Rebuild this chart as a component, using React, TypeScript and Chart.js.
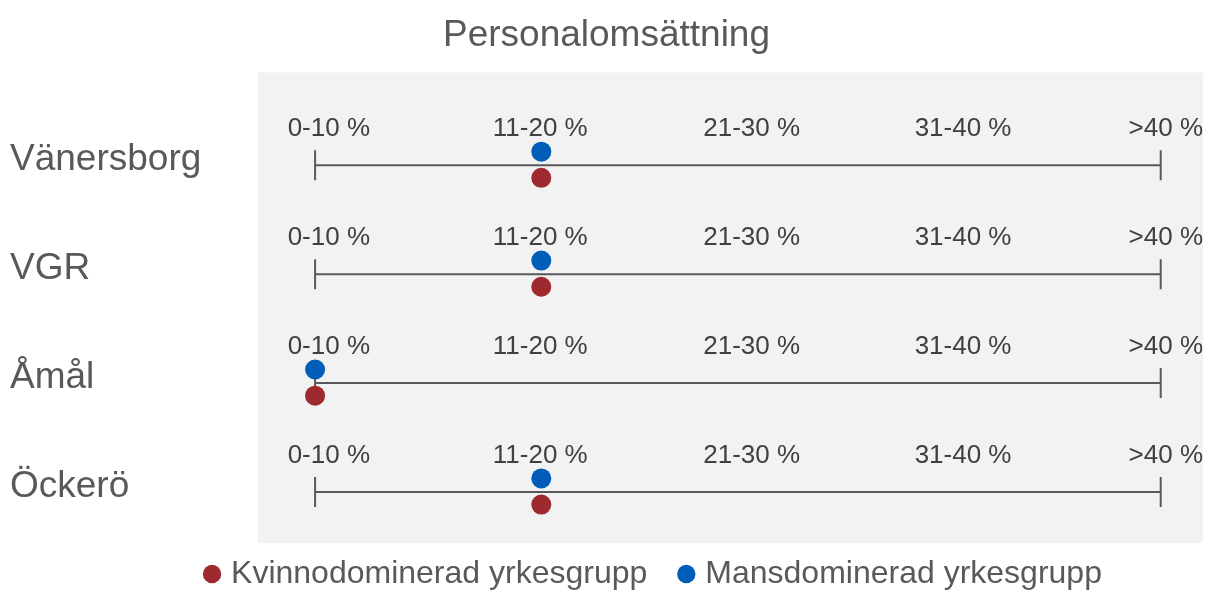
import React, { useEffect, useRef } from "react";
import { Chart, registerables } from "chart.js";

Chart.register(...registerables);

const chartTitle = "Personalomsättning";
const rowLabels = ["Vänersborg", "VGR", "Åmål", "Öckerö"];
const categoryLabels = ["0-10 %", "11-20 %", "21-30 %", "31-40 %", ">40 %"];
const categoryLabelValues = [0.65, 10.65, 20.65, 30.65, 40.65];
const axisStart = 0;
const axisEnd = 40;
const seriesNames = ["Kvinnodominerad yrkesgrupp", "Mansdominerad yrkesgrupp"];
const kvinnoValues = [10.7, 10.7, 0, 10.7];
const mansValues = [10.7, 10.7, 0, 10.7];

const FONT = "Arial, 'Liberation Sans', sans-serif";
const RED = "#9E2A2F";
const BLUE = "#005EB8";
const LINE = "#595959";
const TEXT = "#595959";
const CAT_TEXT = "#404040";
const MANS_OFFSET = -0.125;
const KVINNO_OFFSET = 0.115;
const ROW_LABEL_SHIFT = 0.046;
const LEGEND_DX = 49;
const LEGEND_DY = -21;

const decorPlugin = {
  id: "rowDecor",
  afterLayout(chart: any) {
    const lg = chart.legend;
    if (!lg) return;
    lg.left += LEGEND_DX;
    lg.right += LEGEND_DX;
    lg.top += LEGEND_DY;
    lg.bottom += LEGEND_DY;
  },
  beforeDraw(chart: any) {
    const { ctx, chartArea } = chart;
    ctx.save();
    ctx.fillStyle = "#F2F2F2";
    ctx.fillRect(chartArea.left, chartArea.top, chartArea.right - chartArea.left, chartArea.bottom - chartArea.top);
    ctx.restore();
  },
  beforeDatasetsDraw(chart: any) {
    const { ctx, chartArea, scales } = chart;
    ctx.save();
    ctx.font = `26px ${FONT}`;
    ctx.fillStyle = CAT_TEXT;
    ctx.textBaseline = "middle";
    ctx.textAlign = "center";
    rowLabels.forEach((_, r) => {
      const y = scales.y.getPixelForValue(r) - 36.5;
      categoryLabels.forEach((lab, k) => {
        const w = ctx.measureText(lab).width;
        let x = scales.x.getPixelForValue(categoryLabelValues[k]);
        if (x + w / 2 > chartArea.right) x = chartArea.right - w / 2;
        ctx.fillText(lab, x, y);
      });
    });
    ctx.restore();
  },
};

export default function App() {
  const ref = useRef<HTMLCanvasElement | null>(null);
  useEffect(() => {
    if (!ref.current) return;
    const lineSets = rowLabels.map((name, r) => ({
      type: "line" as const,
      label: "axis-" + name,
      data: [
        { x: axisStart, y: r },
        { x: axisEnd, y: r },
      ],
      borderColor: LINE,
      borderWidth: 2,
      pointStyle: "line",
      rotation: 90,
      pointRadius: 15,
      pointBorderColor: LINE,
      pointBorderWidth: 2,
      order: 2,
    }));
    const chart = new Chart(ref.current, {
      type: "scatter",
      data: {
        datasets: [
          ...lineSets,
          {
            label: seriesNames[0],
            data: kvinnoValues.map((v, r) => ({ x: v, y: r + KVINNO_OFFSET })),
            backgroundColor: RED,
            borderColor: RED,
            pointRadius: 10,
            pointBorderWidth: 0,
            pointStyle: "circle",
            order: 1,
          },
          {
            label: seriesNames[1],
            data: mansValues.map((v, r) => ({ x: v, y: r + MANS_OFFSET })),
            backgroundColor: BLUE,
            borderColor: BLUE,
            pointRadius: 10,
            pointBorderWidth: 0,
            pointStyle: "circle",
            order: 1,
          },
        ] as any,
      },
      options: {
        animation: false,
        responsive: false,
        events: [],
        layout: { autoPadding: false, padding: { left: 10, right: 14, top: 0, bottom: -28 } },
        plugins: {
          title: {
            display: true,
            text: chartTitle,
            color: TEXT,
            font: { family: FONT, size: 37, weight: "normal" },
            padding: { top: 14, bottom: 14 },
          },
          legend: {
            position: "bottom",
            labels: {
              color: TEXT,
              font: { family: FONT, size: 32 },
              usePointStyle: true,
              pointStyle: "circle",
              boxWidth: 6,
              boxHeight: 13,
              padding: 36,
              filter: (item: any) => !String(item.text).startsWith("axis-"),
            },
          },
          tooltip: { enabled: false },
        },
        scales: {
          x: {
            type: "linear",
            min: -2.7,
            max: 42,
            display: false,
          },
          y: {
            type: "linear",
            reverse: true,
            min: -0.853,
            max: 3.468,
            grid: { display: false },
            border: { display: false },
            afterBuildTicks: (scale: any) => {
              scale.ticks = rowLabels.map((_, i) => ({ value: i - ROW_LABEL_SHIFT }));
            },
            afterFit: (scale: any) => {
              scale.width = 248;
            },
            ticks: {
              crossAlign: "far",
              color: TEXT,
              font: { family: FONT, size: 37 },
              padding: 0,
              callback: (_v: any, i: number) => rowLabels[i],
            },
          },
        },
      } as any,
      plugins: [decorPlugin],
    });
    return () => chart.destroy();
  }, []);
  return (
    <div style={{ position: "absolute", left: 0, top: 0, width: 1217, height: 593, background: "#fff" }}>
      <canvas ref={ref} width={1217} height={593} style={{ width: 1217, height: 593 }} />
    </div>
  );
}
